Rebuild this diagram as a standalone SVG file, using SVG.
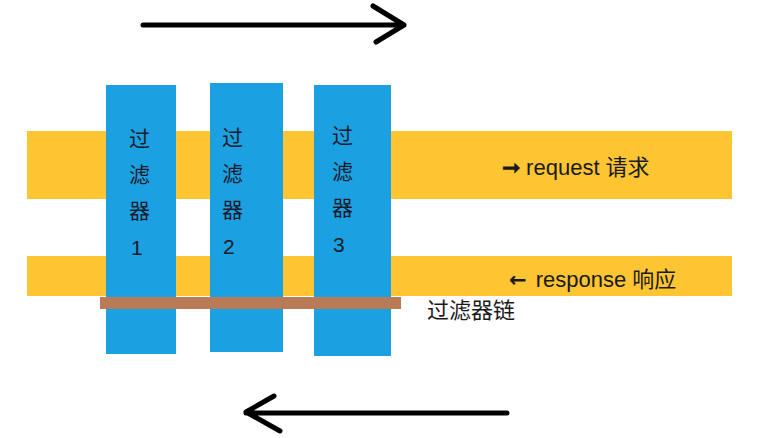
<svg xmlns="http://www.w3.org/2000/svg" width="762" height="438" viewBox="0 0 762 438">
<style>
.band{fill:#FDC532}
.col{fill:#1BA1E2}
.ct{font-family:"Liberation Sans","Noto Sans CJK SC",sans-serif;font-size:21px;fill:#1a1a2a}
.lbl{font-family:"Liberation Sans","Noto Sans CJK SC",sans-serif;font-size:22px;fill:#1a1a1a}
.ar{font-family:"DejaVu Sans",sans-serif;font-weight:bold;font-size:21px}
.arr{fill:none;stroke:#000;stroke-width:5;stroke-linecap:round;stroke-linejoin:round}
</style>
<rect width="762" height="438" fill="#fff"/>
<g id="request-band"><rect class="band" x="27" y="131" width="705" height="68"/></g>
<g id="response-band"><rect class="band" x="27" y="256" width="705" height="40"/></g>
<g id="filter1">
<rect class="col" x="106" y="85" width="70" height="269"/>
<text class="ct" x="129" y="146">过</text><text class="ct" x="129" y="182">滤</text><text class="ct" x="129" y="218">器</text><text class="ct" x="131" y="255">1</text>
</g>
<g id="filter2">
<rect class="col" x="210" y="83" width="73" height="269"/>
<text class="ct" x="222" y="145">过</text><text class="ct" x="222" y="181">滤</text><text class="ct" x="222" y="217">器</text><text class="ct" x="223" y="254">2</text>
</g>
<g id="filter3">
<rect class="col" x="314" y="85" width="77" height="271"/>
<text class="ct" x="332" y="143">过</text><text class="ct" x="332" y="179">滤</text><text class="ct" x="332" y="215">器</text><text class="ct" x="333" y="252">3</text>
</g>
<g id="chain">
<rect x="100" y="297" width="301" height="12" fill="#B97A57"/>
<text class="lbl" x="427" y="318" font-size="20">过滤器链</text>
</g>
<g id="request-label"><text class="lbl" x="502" y="175"><tspan font-weight="bold">➞</tspan> request 请求</text></g>
<g id="response-label"><text class="lbl" x="509" y="287"><tspan class="ar">←</tspan><tspan dx="3"> response 响应</tspan></text></g>
<g id="connectors">
<path class="arr" d="M143 25 H404 M373 6 L404 25 L376 42"/>
<path class="arr" d="M507 413 H246 M274 396 L246 412 L280 431"/>
</g>
</svg>
